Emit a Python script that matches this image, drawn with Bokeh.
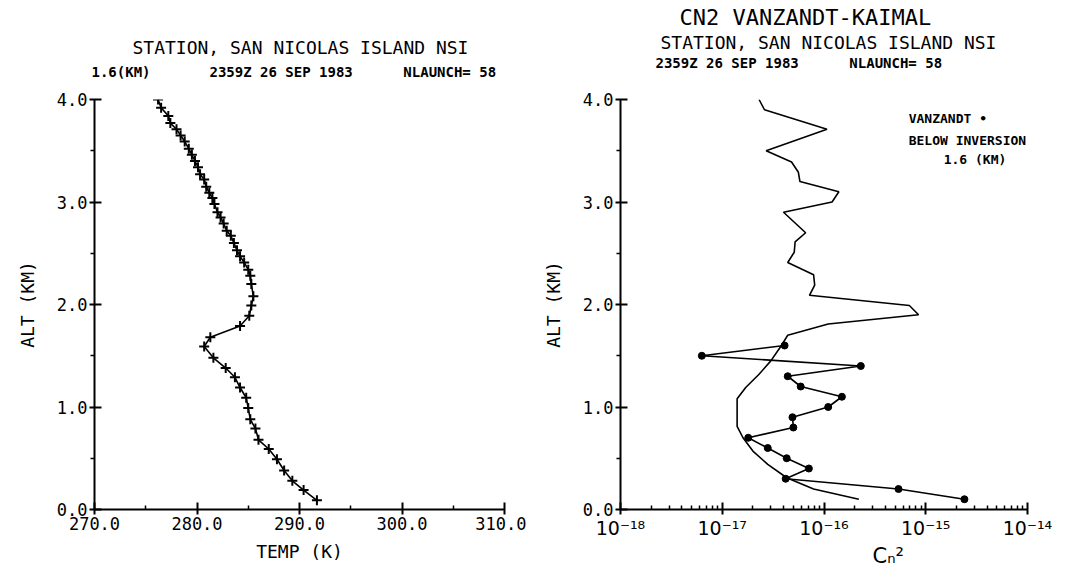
from bokeh.plotting import figure
from bokeh.models import Range1d, Label, Title, CustomJSTickFormatter, FixedTicker, NumeralTickFormatter
from bokeh.layouts import row
from bokeh.embed import file_html
from bokeh.resources import INLINE

# ---------------- data ----------------
temp_alt = [4.00, 3.92, 3.84, 3.77, 3.71, 3.65, 3.59, 3.52, 3.46, 3.40, 3.34, 3.27, 3.22,
            3.15, 3.09, 3.04, 2.98, 2.90, 2.85, 2.79, 2.72, 2.67, 2.60, 2.53, 2.47, 2.41,
            2.34, 2.28, 2.20, 2.08, 1.99, 1.89, 1.79, 1.68, 1.59, 1.48, 1.38, 1.29, 1.19,
            1.09, 0.99, 0.88, 0.79, 0.68, 0.59, 0.49, 0.38, 0.28, 0.19, 0.09]
temp_k = [276.2, 276.5, 277.2, 277.4, 278.0, 278.4, 278.8, 279.2, 279.5, 279.8, 280.1, 280.3,
          280.7, 280.9, 281.2, 281.5, 281.7, 282.0, 282.3, 282.6, 282.9, 283.3, 283.6, 283.9,
          284.2, 284.6, 285.0, 285.2, 285.3, 285.5, 285.3, 285.1, 284.2, 281.3, 280.7, 281.6,
          282.8, 283.7, 284.2, 284.8, 285.0, 285.2, 285.7, 286.0, 287.0, 287.8, 288.5, 289.3,
          290.4, 291.7]

vz_alt = [4.00, 3.90, 3.71, 3.50, 3.39, 3.29, 3.20, 3.10, 3.00, 2.90, 2.70, 2.61, 2.51, 2.41,
          2.29, 2.19, 2.09, 1.99, 1.90, 1.81, 1.70, 1.58, 1.45, 1.32, 1.19, 1.08, 0.95, 0.81,
          0.70, 0.57, 0.44, 0.31, 0.20, 0.10]
vz_cn2 = [2.3e-17, 2.6e-17, 1.07e-16, 2.7e-17, 4.8e-17, 5.6e-17, 5.8e-17, 1.4e-16, 1.2e-16,
          4.0e-17, 6.6e-17, 5.2e-17, 5.1e-17, 4.4e-17, 7.9e-17, 8.1e-17, 7.2e-17, 6.9e-16,
          8.5e-16, 1.1e-16, 4.4e-17, 3.7e-17, 3.0e-17, 2.3e-17, 1.7e-17, 1.4e-17, 1.4e-17,
          1.4e-17, 1.6e-17, 2.0e-17, 2.8e-17, 4.3e-17, 7.9e-17, 2.2e-16]

kb_alt = [1.6, 1.5, 1.4, 1.3, 1.2, 1.1, 1.0, 0.9, 0.8, 0.7, 0.6, 0.5, 0.4, 0.3, 0.2, 0.1]
kb_cn2 = [4.1e-17, 6.3e-18, 2.3e-16, 4.4e-17, 5.9e-17, 1.5e-16, 1.1e-16, 4.9e-17, 5.0e-17,
          1.8e-17, 2.8e-17, 4.3e-17, 7.1e-17, 4.2e-17, 5.4e-16, 2.4e-15]

temp_ticks = [270, 280, 290, 300, 310]
temp_minor = [275, 285, 295, 305]
alt_ticks = [0, 1, 2, 3, 4]
alt_minor = [0.5, 1.5, 2.5, 3.5]
cn2_ticks = [1e-18, 1e-17, 1e-16, 1e-15, 1e-14]
cn2_minor = [k * 10.0 ** e for e in range(-18, -14) for k in range(2, 10)]

FONT = "DejaVu Sans Mono"
SANS = "DejaVu Sans"
BLACK = "#000000"
NB = "\u00a0"


def style_axes(p):
    p.grid.visible = False
    p.outline_line_color = None
    p.background_fill_color = "white"
    p.border_fill_color = "white"
    for ax in p.axis:
        ax.axis_line_width = 2
        ax.axis_line_color = BLACK
        ax.major_tick_line_width = 2
        ax.major_tick_line_color = BLACK
        ax.minor_tick_line_width = 1.5
        ax.minor_tick_line_color = BLACK
        ax.major_tick_in = 7
        ax.major_tick_out = 5
        ax.major_label_standoff = 2
        ax.major_label_text_font = FONT
        ax.major_label_text_font_size = "17px"
        ax.major_label_text_color = BLACK
        ax.axis_label_text_font = FONT
        ax.axis_label_text_font_size = "18px"
        ax.axis_label_text_font_style = "normal"
        ax.axis_label_text_color = BLACK
    p.yaxis.minor_tick_in = 0
    p.yaxis.minor_tick_out = 4
    p.xaxis.minor_tick_in = 4
    p.xaxis.minor_tick_out = 0


def add_title(p, text, size, style="normal", offset=0, standoff=0, place="above", font=FONT):
    p.add_layout(Title(text=text, align="left", offset=offset, standoff=standoff,
                       text_font=font, text_font_size=size, text_font_style=style,
                       text_color=BLACK), place)


def add_text(p, x, y, text, size, align="left", style="bold"):
    p.add_layout(Label(x=x, y=y, text=text, text_font=FONT, text_font_size=size,
                       text_font_style=style, text_align=align, text_baseline="alphabetic",
                       text_color=BLACK))


# ---------------- left: temperature ----------------
p1 = figure(width=526, height=572, x_range=Range1d(270, 310), y_range=Range1d(0, 4),
            output_backend="svg", toolbar_location=None, title=None,
            min_border_left=94, min_border_right=22, min_border_top=99, min_border_bottom=63)
p1.xaxis.ticker = FixedTicker(ticks=temp_ticks, minor_ticks=temp_minor)
p1.yaxis.ticker = FixedTicker(ticks=alt_ticks, minor_ticks=alt_minor)
p1.xaxis.formatter = NumeralTickFormatter(format="0.0")
p1.yaxis.formatter = NumeralTickFormatter(format="0.0")
p1.xaxis.axis_label = "TEMP (K)"
p1.yaxis.axis_label = "ALT (KM)"
style_axes(p1)
p1.xaxis.axis_label_standoff = 8
p1.yaxis.axis_label_standoff = 16

p1.line(temp_k, temp_alt, line_color=BLACK, line_width=1.6)
p1.scatter(temp_k, temp_alt, marker="cross", size=10, line_color=BLACK, line_width=2)

add_title(p1, NB, "10px", standoff=3)  # spacer between frame and sub-title
add_title(p1, "1.6(KM)" + NB * 7 + "2359Z 26 SEP 1983" + NB * 6 + "NLAUNCH= 58", "14px",
          style="bold", offset=-3, standoff=8)
add_title(p1, "STATION, SAN NICOLAS ISLAND NSI", "18px", offset=38)

# ---------------- right: Cn2 ----------------
p2 = figure(width=526, height=572, x_axis_type="log",
            x_range=Range1d(1e-18, 1e-14), y_range=Range1d(0, 4),
            output_backend="svg", toolbar_location=None, title=None,
            min_border_left=94, min_border_right=25, min_border_top=99, min_border_bottom=63)
p2.xaxis.ticker = FixedTicker(ticks=cn2_ticks, minor_ticks=cn2_minor)
p2.yaxis.ticker = FixedTicker(ticks=alt_ticks, minor_ticks=alt_minor)
p2.yaxis.formatter = NumeralTickFormatter(format="0.0")
p2.xaxis.formatter = CustomJSTickFormatter(code="""
    const sup = {'-': '\u207b', '0': '\u2070', '1': '\u00b9', '2': '\u00b2', '3': '\u00b3',
                 '4': '\u2074', '5': '\u2075', '6': '\u2076', '7': '\u2077', '8': '\u2078',
                 '9': '\u2079'};
    const e = Math.round(Math.log10(tick));
    return '10' + String(e).split('').map(c => sup[c]).join('');
""")
p2.yaxis.axis_label = "ALT (KM)"
style_axes(p2)
p2.yaxis.axis_label_standoff = 16
p2.xaxis.major_label_text_font = SANS
p2.xaxis.major_label_text_font_size = "19px"
p2.xaxis.major_label_text_align = "left"

p2.line(vz_cn2, vz_alt, line_color=BLACK, line_width=1.6)
p2.line(kb_cn2, kb_alt, line_color=BLACK, line_width=1.6)
p2.scatter(kb_cn2, kb_alt, marker="circle", size=7, fill_color=BLACK, line_color=BLACK)

add_title(p2, NB, "10px", standoff=16)  # spacer between frame and sub-title
add_title(p2, "2359Z 26 SEP 1983" + NB * 6 + "NLAUNCH= 58", "14px", style="bold", offset=35)
add_title(p2, "STATION, SAN NICOLAS ISLAND NSI", "18px", offset=40)
add_title(p2, "CN2 VANZANDT-KAIMAL", "22px", offset=59)
add_title(p2, "C\u2099\u00b2", "21px", offset=252, place="below", font=SANS)

add_text(p2, 6.8e-16, 3.81, "VANZANDT \u2022", "13px")
add_text(p2, 6.8e-16, 3.60, "BELOW INVERSION", "13px")
add_text(p2, 1.5e-15, 3.41, "1.6 (KM)", "13px")

layout = row(p1, p2)
open("out.html", "w").write(file_html(layout, INLINE))
